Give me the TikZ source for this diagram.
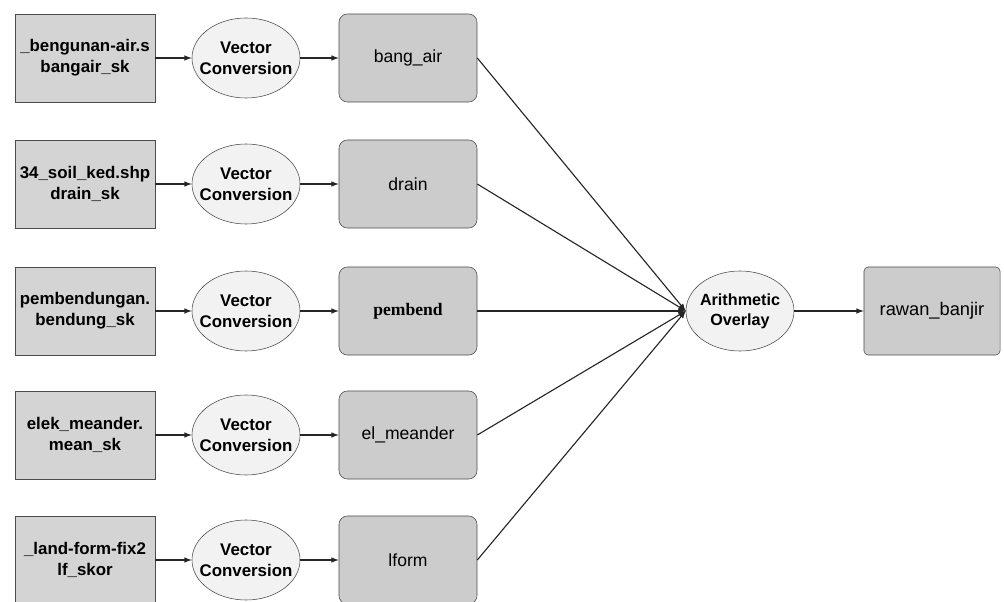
\documentclass[tikz,border=0pt]{standalone}
\usepackage{fontspec}
\setmainfont{Liberation Sans}
\newfontfamily\serifbold{Liberation Serif}
\usetikzlibrary{arrows,shapes,positioning}

\tikzset{
  inbox/.style={draw=black!70, fill=black!17, minimum width=3.5cm, minimum height=2.2cm, align=center, font=\fontsize{12}{15}\selectfont\bfseries, inner sep=1pt},
  tool/.style={draw=black!70, fill=black!5, ellipse, minimum width=2.7cm, minimum height=2cm, align=center, font=\fontsize{12}{15}\selectfont\bfseries, inner ysep=0pt, inner xsep=-7pt},
  outbox/.style={draw=black!70, fill=black!20, rounded corners=6pt, minimum width=3.45cm, minimum height=2.2cm, font=\fontsize{12.5}{15}\selectfont},
  flow/.style={-latex, black!85, thick}
}

\begin{document}
\begin{tikzpicture}[x=0.025cm, y=-0.025cm]

\useasboundingbox (0,0) rectangle (1004,602);

% input layers, conversion tools, converted grids
\foreach \n/\y/\ina/\inb/\outt in {
  1/58/{\_bengunan-air.s}/{bangair\_sk}/{bang\_air},
  2/184/{34\_soil\_ked.shp}/{drain\_sk}/{drain},
  3/311/{pembendungan.}/{bendung\_sk}/{\serifbold\bfseries pembend},
  4/435/{elek\_meander.}/{mean\_sk}/{el\_meander},
  5/560/{\_land-form-fix2}/{lf\_skor}/{lform}}
{
  \node[inbox] (in\n) at (85,\y) {\ina\\\inb};
  \node[tool] (vc\n) at (246,\y) {Vector\\Conversion};
  \node[outbox] (out\n) at (408,\y) {\outt};
  \draw[flow] (in\n.east) -- (vc\n.west);
  \draw[flow] (vc\n.east) -- (out\n.west);
}

% overlay and result
\node[tool, font=\fontsize{11.5}{14}\selectfont\bfseries] (ov) at (740,311) {Arithmetic\\Overlay};
\node[outbox, minimum width=3.4cm, rounded corners=3pt, font=\fontsize{13}{15}\selectfont] (res) at (932,311) {rawan\_banjir};

\foreach \n in {1,...,5}
  \draw[flow] (out\n.east) -- (ov.west);

\draw[flow] (ov.east) -- (res.west);

\end{tikzpicture}
\end{document}
